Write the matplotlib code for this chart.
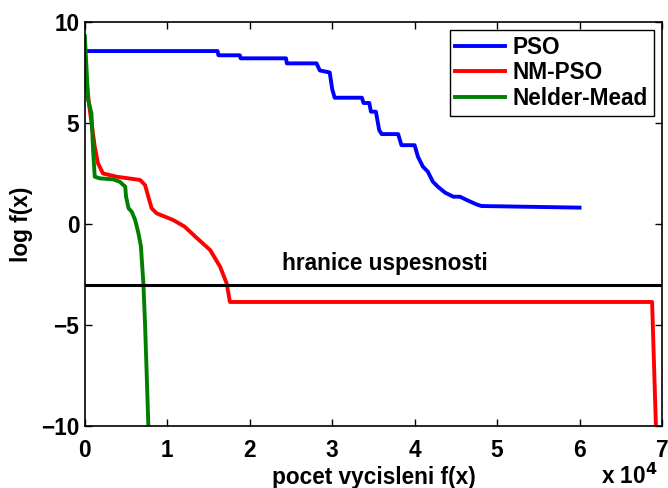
import matplotlib
matplotlib.use("Agg")
import matplotlib.pyplot as plt
from matplotlib.ticker import FuncFormatter

plt.rcParams['font.family'] = ['Liberation Sans', 'DejaVu Sans']
plt.rcParams['font.weight'] = 'bold'

# pocet vycisleni f(x) / log f(x)
pso_x = [0, 16100, 16200, 18800, 18900, 24400, 24500, 28100, 28500, 29700, 30000,
         30300, 30700, 33600, 33800, 34500, 34700, 35300, 35700, 36000, 36200, 38000,
         38400, 40000, 40400, 41000, 41600, 42200, 42800, 43700, 44700, 45500, 46300,
         47500, 48100, 60000]
pso_y = [8.56, 8.56, 8.35, 8.35, 8.2, 8.2, 7.95, 7.95, 7.6, 7.5, 6.68,
         6.25, 6.25, 6.25, 5.99, 5.99, 5.56, 5.56, 4.65, 4.45, 4.45, 4.45,
         3.9, 3.9, 3.33, 2.84, 2.59, 2.1, 1.85, 1.55, 1.35, 1.35, 1.19,
         0.97, 0.89, 0.81]

nmpso_x = [0, 600, 1200, 1600, 2200, 3850, 6700, 7300, 7700, 8100, 8700, 10700,
           12100, 13600, 15200, 16400, 17200, 17600, 68800, 69300]
nmpso_y = [7.8, 5.64, 3.83, 3.0, 2.5, 2.34, 2.18, 1.93, 1.35, 0.78, 0.53, 0.2,
           -0.13, -0.7, -1.29, -2.11, -2.94, -3.86, -3.86, -10.5]

nm_x = [0, 400, 800, 1000, 1200, 1800, 3400, 4200, 4900, 5000, 5300, 5700, 6100,
        6500, 6800, 7100, 7300, 7500, 7700, 7750]
nm_y = [9.3, 6.14, 5.48, 3.66, 2.34, 2.26, 2.21, 2.1, 1.85, 1.35, 0.78, 0.6, 0.2,
        -0.46, -1.1, -2.94, -4.92, -7.4, -9.95, -10.5]

hranice = -3

fig = plt.figure(figsize=(6.68, 4.88), dpi=100)
ax = fig.add_axes([0.127, 0.127, 0.864, 0.828])

ax.plot(pso_x, pso_y, color='#0000ff', lw=2.8, label='PSO')
ax.plot(nmpso_x, nmpso_y, color='#ff0000', lw=2.8, label='NM-PSO')
ax.plot(nm_x, nm_y, color='#007f00', lw=2.8, label='Nelder-Mead')
ax.axhline(hranice, color='black', lw=2.2)
ax.text(36400, -1.95, 'hranice uspesnosti', fontsize=16.3, fontweight='bold',
        ha='center', va='center')

ax.set_xlim(0, 70000)
ax.set_ylim(-10, 10)
ax.set_xticks(range(0, 70001, 10000))
ax.set_yticks([-10, -5, 0, 5, 10])
ax.xaxis.set_major_formatter(FuncFormatter(lambda v, p: '%d' % round(v / 10000)))
ax.tick_params(direction='in', top=True, right=True, length=5, width=1,
               labelsize=16.3)
ax.tick_params(axis='x', pad=9.5)
ax.tick_params(axis='y', pad=4)
for s in ax.spines.values():
    s.set_linewidth(1.2)

ax.set_xlabel('pocet vycisleni f(x)', fontsize=16.3, fontweight='bold')
ax.set_ylabel('log f(x)', fontsize=16.3, fontweight='bold')
ax.xaxis.set_label_coords(0.5, -0.1)
ax.yaxis.set_label_coords(-0.09, 0.5)
fig.text(0.984, 0.008, r'x 10$^{\mathbf{4}}$', fontsize=16.3, fontweight='bold',
         ha='right', va='baseline')

leg = ax.legend(loc='upper right', bbox_to_anchor=(0.986, 0.98), borderaxespad=0,
                fancybox=False, edgecolor='black', framealpha=1, fontsize=16.3,
                handlelength=2.2, labelspacing=0.12, borderpad=0.25,
                handletextpad=0.35)
leg.get_frame().set_linewidth(1.0)

fig.savefig('out.png', dpi=100)
